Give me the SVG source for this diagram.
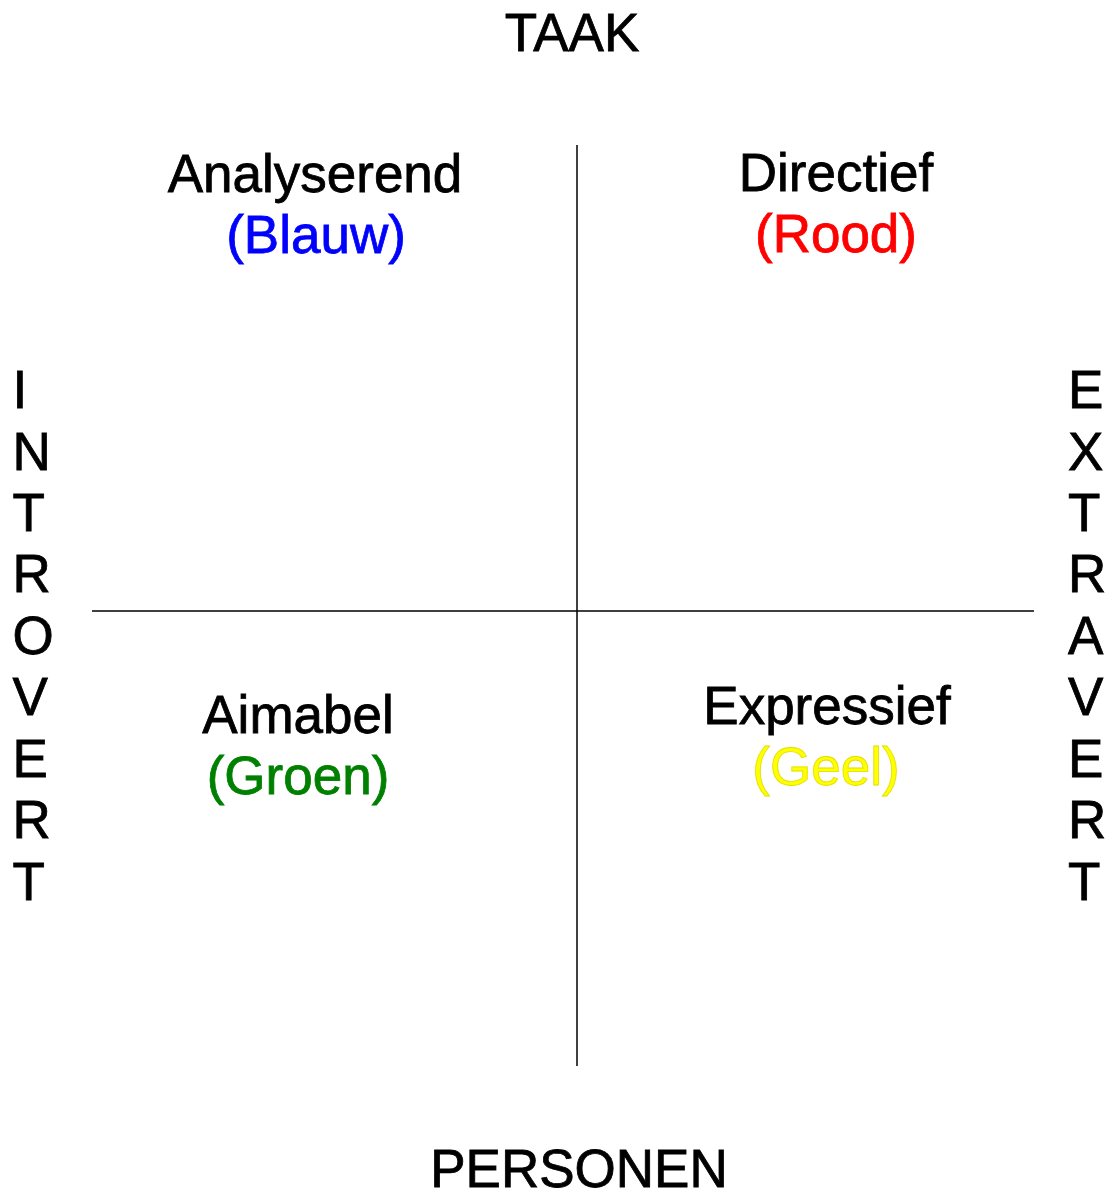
<svg xmlns="http://www.w3.org/2000/svg" width="1114" height="1196" viewBox="0 0 1114 1196">
<style>
text{font-family:"Liberation Sans",Arial,sans-serif;font-size:53px;fill:#000;stroke:#000;stroke-width:0.8}
.c{text-anchor:middle}
.b{fill:#0000ff;stroke:#0000ff}
.r{fill:#ff0000;stroke:#ff0000}
.g{fill:#008000;stroke:#008000}
.y{fill:#ffff00;stroke:#e0e000}
.ax line{stroke:#000;stroke-width:1.5}
</style>
<rect width="1114" height="1196" fill="#fff"/>
<g id="connectors" class="ax">
<line x1="577" y1="145" x2="577" y2="1066"/>
<line x1="92" y1="611" x2="1034" y2="611"/>
</g>
<g id="taak"><text class="c" x="572" y="51">TAAK</text></g>
<g id="personen"><text class="c" x="579" y="1187">PERSONEN</text></g>
<g id="analyserend"><text class="c" x="315" y="192">Analyserend</text><text class="c b" x="316" y="253">(Blauw)</text></g>
<g id="directief"><text class="c" x="836" y="191">Directief</text><text class="c r" x="836" y="252">(Rood)</text></g>
<g id="aimabel"><text class="c" x="298" y="733">Aimabel</text><text class="c g" x="298" y="794">(Groen)</text></g>
<g id="expressief"><text class="c" x="827" y="724">Expressief</text><text class="c y" x="826" y="785">(Geel)</text></g>
<g id="introvert">
<text x="12.5" y="408">I</text>
<text x="12.5" y="470">N</text>
<text x="12.5" y="531">T</text>
<text x="12.5" y="592">R</text>
<text x="12.5" y="654">O</text>
<text x="12.5" y="715">V</text>
<text x="12.5" y="777">E</text>
<text x="12.5" y="838">R</text>
<text x="12.5" y="900">T</text>
</g>
<g id="extravert">
<text x="1068" y="408">E</text>
<text x="1068" y="470">X</text>
<text x="1068" y="531">T</text>
<text x="1068" y="592">R</text>
<text x="1068" y="654">A</text>
<text x="1068" y="715">V</text>
<text x="1068" y="777">E</text>
<text x="1068" y="838">R</text>
<text x="1068" y="900">T</text>
</g>
</svg>
